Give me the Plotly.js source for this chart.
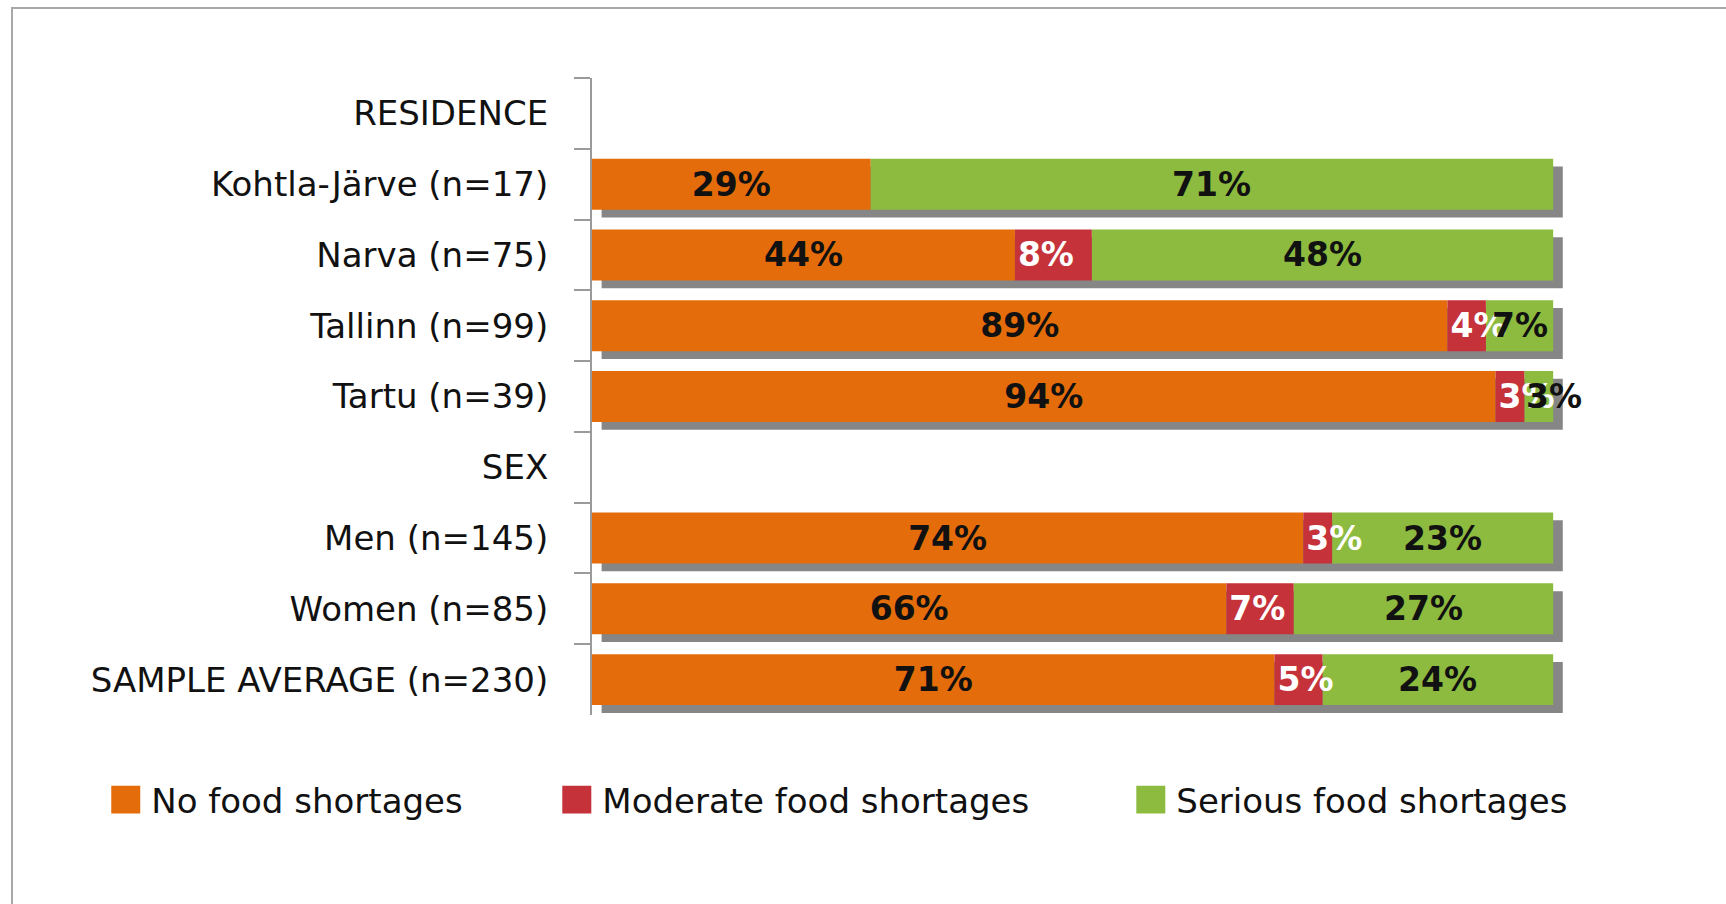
<!DOCTYPE html>
<html><head><meta charset="utf-8">
<script src="https://cdn.plot.ly/plotly-3.0.1.min.js"></script>
<style>
html,body{margin:0;padding:0;width:1726px;height:904px;overflow:hidden;background:#fff}
#frame{position:absolute;left:11px;top:7px;width:2000px;height:2000px;border-left:2px solid #a8a8a8;border-top:2px solid #a8a8a8;}
#chart{position:absolute;left:0;top:0;width:1726px;height:904px;}
</style></head><body>
<div id="frame"></div><div id="chart"></div>
<script>
const categories = ['RESIDENCE','Kohtla-Järve (n=17)','Narva (n=75)','Tallinn (n=99)','Tartu (n=39)','SEX','Men (n=145)','Women (n=85)','SAMPLE AVERAGE (n=230)'];
const noShortages = [null,29,44,89,94,null,74,66,71];
const moderateShortages = [null,0,8,4,3,null,3,7,5];
const seriousShortages = [null,71,48,7,3,null,23,27,24];
const seriesNames = ['No food shortages','Moderate food shortages','Serious food shortages'];
const seriesColors = ['#E46C0A','#C5323A','#8DBB3F'];

const isNum = v => v !== null && v !== undefined;
const baseModerate = noShortages.map(v => isNum(v) ? v : null);
const baseSerious = noShortages.map((v,i) => isNum(v) ? v + moderateShortages[i] : null);
const totals = noShortages.map((v,i) => isNum(v) ? v + moderateShortages[i] + seriousShortages[i] : null);
const lbl = arr => arr.map(v => (isNum(v) && v > 0) ? v + '%' : '');

const FONT = 'DejaVu Sans, sans-serif';
const BW = 0.72;

const common = {
  type:'bar', orientation:'h', y:categories, width:BW,
  textposition:'inside', textangle:0, constraintext:'none', cliponaxis:false,
  hoverinfo:'skip'
};
const boldFont = c => ({family:FONT, size:33, color:c, weight:'bold'});

const traces = [
  Object.assign({}, common, {
    name:'shadow', x:totals, base:totals.map(t => isNum(t) ? 1 : null),
    offset:-BW/2 + 0.11, marker:{color:'#868686'}, showlegend:false, text:[]
  }),
  Object.assign({}, common, {
    name:seriesNames[0], x:noShortages, base:noShortages.map(v => isNum(v) ? 0 : null),
    marker:{color:seriesColors[0]}, text:lbl(noShortages), insidetextanchor:'middle',
    textfont:boldFont('#111'), legend:'legend'
  }),
  Object.assign({}, common, {
    name:seriesNames[2], x:seriousShortages, base:baseSerious,
    marker:{color:seriesColors[2]}, text:[], legend:'legend3'
  }),
  Object.assign({}, common, {
    name:seriesNames[1], x:moderateShortages, base:baseModerate,
    marker:{color:seriesColors[1]}, text:lbl(moderateShortages), insidetextanchor:'start',
    textfont:boldFont('#ffffff'), legend:'legend2'
  })
];

// labels of the "serious" segments, placed on top of all bars (as in the original);
// a label too wide for its segment starts at the segment's left edge
const seriousLabels = lbl(seriousShortages);
const annotations = [];
categories.forEach((c,i) => {
  if (!seriousLabels[i]) return;
  const narrow = seriousShortages[i] < 5;
  annotations.push({
    x: narrow ? baseSerious[i] : baseSerious[i] + seriousShortages[i]/2, y: c, xref:'x', yref:'y',
    text: seriousLabels[i], showarrow:false, xanchor: narrow ? 'left' : 'center', yanchor:'middle',
    font: boldFont('#111')
  });
});

const legendFont = {family:FONT, size:34, color:'#111'};
const mkLegend = x => ({orientation:'h', x:x, y:-0.1334, xanchor:'left', yanchor:'middle',
  font:legendFont, bgcolor:'rgba(0,0,0,0)', borderwidth:0, traceorder:'normal'});

const layout = {
  width:1726, height:904,
  margin:{l:592, r:144.2, t:78, b:189, pad:0},
  paper_bgcolor:'rgba(0,0,0,0)', plot_bgcolor:'rgba(0,0,0,0)',
  barmode:'overlay',
  font:{family:FONT, size:34, color:'#111'},
  xaxis:{range:[0,103], visible:false, fixedrange:true},
  yaxis:{type:'category', autorange:'reversed', showline:true, linecolor:'#9a9a9a', linewidth:2,
    ticks:'outside', tickson:'boundaries', ticklen:16, tickcolor:'#9a9a9a', tickwidth:2,
    ticklabelstandoff:35, showgrid:false, zeroline:false,
    tickfont:{family:FONT, size:34, color:'#111'}, fixedrange:true},
  legend:mkLegend(-0.4856),
  legend2:mkLegend(-0.0300),
  legend3:mkLegend(0.5498),
  annotations: annotations,
  showlegend:true
};

Plotly.newPlot('chart', traces, layout, {staticPlot:true, displayModeBar:false}).then(() => {
  document.querySelectorAll('.legendpoints path').forEach(p => {
    const t = p.getAttribute('transform') || '';
    p.setAttribute('transform', t + ' translate(-12,0) scale(3.5,2.3)');
  });
});
</script>
</body></html>
